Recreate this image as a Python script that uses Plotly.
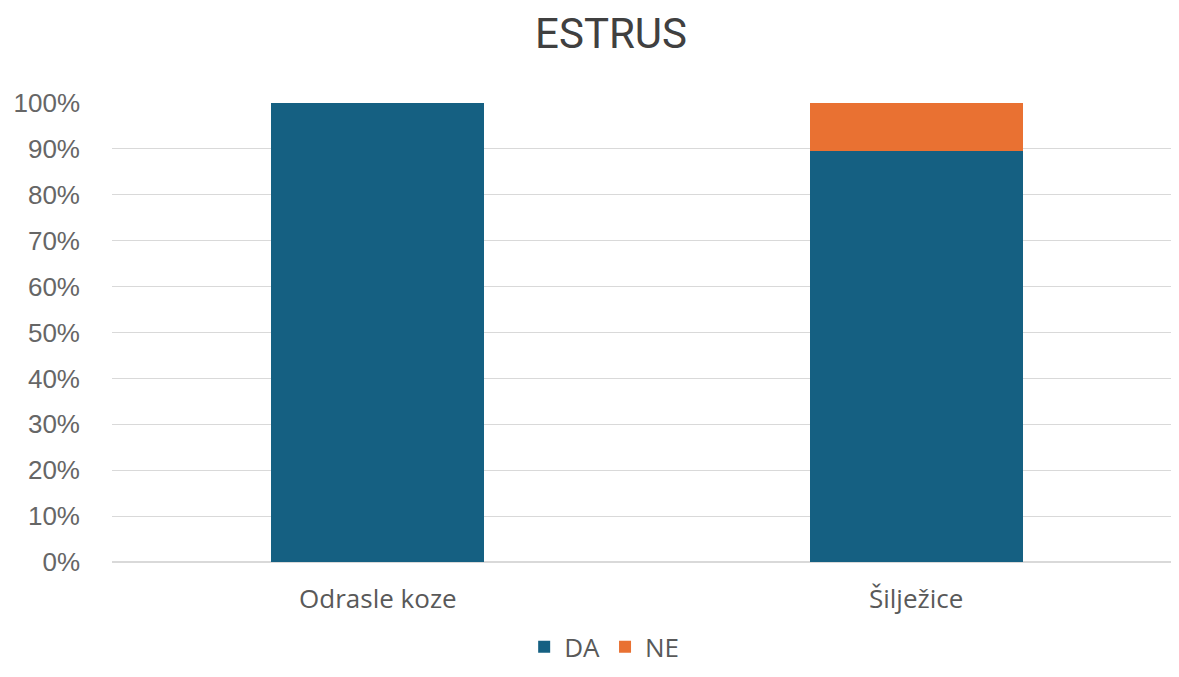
import plotly.graph_objects as go

categories = ["Odrasle koze", "Šilježice"]
da_values = [1.0, 0.896]
ne_values = [0.0, 0.104]
tick_vals = [0, 0.1, 0.2, 0.3, 0.4, 0.5, 0.6, 0.7, 0.8, 0.9, 1.0]
tick_text = ["0%", "10%", "20%", "30%", "40%", "50%", "60%", "70%", "80%", "90%", "100%"]

fig = go.Figure()
fig.add_trace(go.Bar(name="DA", x=categories, y=da_values, marker_color="#156082",
                     marker_line_width=0, width=0.396))
fig.add_trace(go.Bar(name="NE", x=categories, y=ne_values, marker_color="#E97132",
                     marker_line_width=0, width=0.396))

fig.update_layout(
    barmode="stack",
    width=1171, height=661,
    paper_bgcolor="white", plot_bgcolor="white",
    margin=dict(l=104, r=4, t=95, b=107, autoexpand=False),
    title=dict(text="ESTRUS", x=0.515, xanchor="center", y=0.962, yanchor="middle",
               font=dict(family="Roboto, sans-serif", size=42, color="#404040")),
    font=dict(family="Open Sans, sans-serif", color="#595959"),
    legend=dict(orientation="h", x=0.463, xanchor="center", y=-0.185, yanchor="middle",
                font=dict(size=26, color="#595959"), traceorder="normal",
                itemwidth=30),
    showlegend=True,
)
fig.update_yaxes(range=[0, 1.0], tickvals=tick_vals, ticktext=tick_text,
                 showgrid=True, gridcolor="#D9D9D9", gridwidth=1,
                 zeroline=True, zerolinecolor="#D9D9D9", automargin=False,
                 tickfont=dict(family="Liberation Sans, Arial, sans-serif", size=26, color="#666666"),
                 ticks="", ticklabelstandoff=31)
fig.update_xaxes(showline=False, ticks="", range=[-0.494, 1.481], automargin=False,
                 tickfont=dict(size=26, color="#595959"), ticklabelstandoff=19)

fig.write_html("out.html")
